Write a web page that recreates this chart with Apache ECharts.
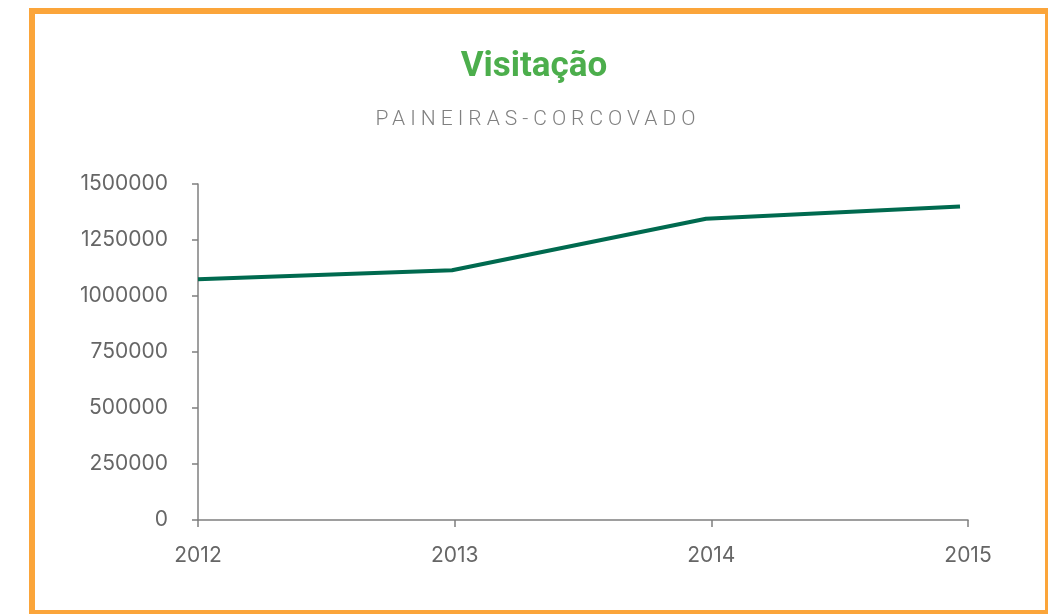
<!DOCTYPE html>
<html>
<head>
<meta charset="utf-8">
<script src="https://cdn.jsdelivr.net/npm/echarts@6/dist/echarts.min.js"></script>
<style>
  html, body { margin: 0; padding: 0; width: 1048px; height: 614px; overflow: hidden; background: #fff; }
  .frame { position: absolute; left: 29px; top: 8px; width: 1010px; height: 596px; border: 6px solid #fba53a; box-sizing: content-box; }
  .title { position: absolute; left: 0; width: 1068px; top: 44px; text-align: center; font-family: Roboto, "Noto Sans", sans-serif; font-weight: bold; font-size: 35px; color: #4cae4c; }
  .sub { position: absolute; left: 4px; width: 1068px; top: 106px; text-align: center; font-family: Roboto, "Noto Sans", sans-serif; font-weight: 300; font-size: 21px; letter-spacing: 5px; color: #808080; }
  #chart { position: absolute; left: 0; top: 0; width: 1048px; height: 614px; }
</style>
</head>
<body>
<div class="frame"></div>
<div id="chart"></div>
<div class="title">Visitação</div>
<div class="sub">PAINEIRAS-CORCOVADO</div>
<script>
const years = ['2012', '2013', '2014', '2015'];
const visitas = [1075000, 1115000, 1345000, 1400000];
const yMax = 1500000;
const yStep = 250000;

const labelFont = { fontFamily: 'Inter, Roboto, sans-serif', fontSize: 21, color: '#666' };

let myChart = echarts.init(document.getElementById('chart'));
myChart.setOption({
  animation: false,
  grid: [
    { left: 198, right: 80, top: 184, bottom: 94 },
    // line sits slightly inside the axis grid, like the original
    { left: 198, right: 88, top: 184, bottom: 94 }
  ],
  xAxis: [
    {
      gridIndex: 0, type: 'category', data: years, boundaryGap: false,
      axisLine: { lineStyle: { color: '#7f7f7f', width: 1.5 } },
      axisTick: { alignWithLabel: true, length: 7, lineStyle: { color: '#7f7f7f', width: 1.5 } },
      axisLabel: Object.assign({ margin: 25 }, labelFont),
      splitLine: { show: false }
    },
    {
      gridIndex: 1, type: 'category', data: years, boundaryGap: false, show: false
    }
  ],
  yAxis: [
    {
      gridIndex: 0, type: 'value', min: 0, max: yMax, interval: yStep,
      axisLine: { show: true, lineStyle: { color: '#7f7f7f', width: 1.5 } },
      axisTick: { show: true, length: 6, lineStyle: { color: '#7f7f7f', width: 1.5 } },
      axisLabel: Object.assign({ margin: 30, formatter: v => String(v) }, labelFont),
      splitLine: { show: false }
    },
    {
      gridIndex: 1, type: 'value', min: 0, max: yMax, interval: yStep, show: false
    }
  ],
  series: [
    {
      name: 'Visitação',
      type: 'line',
      xAxisIndex: 1,
      yAxisIndex: 1,
      data: visitas,
      symbol: 'none',
      lineStyle: { color: '#006a4f', width: 4 }
    }
  ]
});
</script>
</body>
</html>
